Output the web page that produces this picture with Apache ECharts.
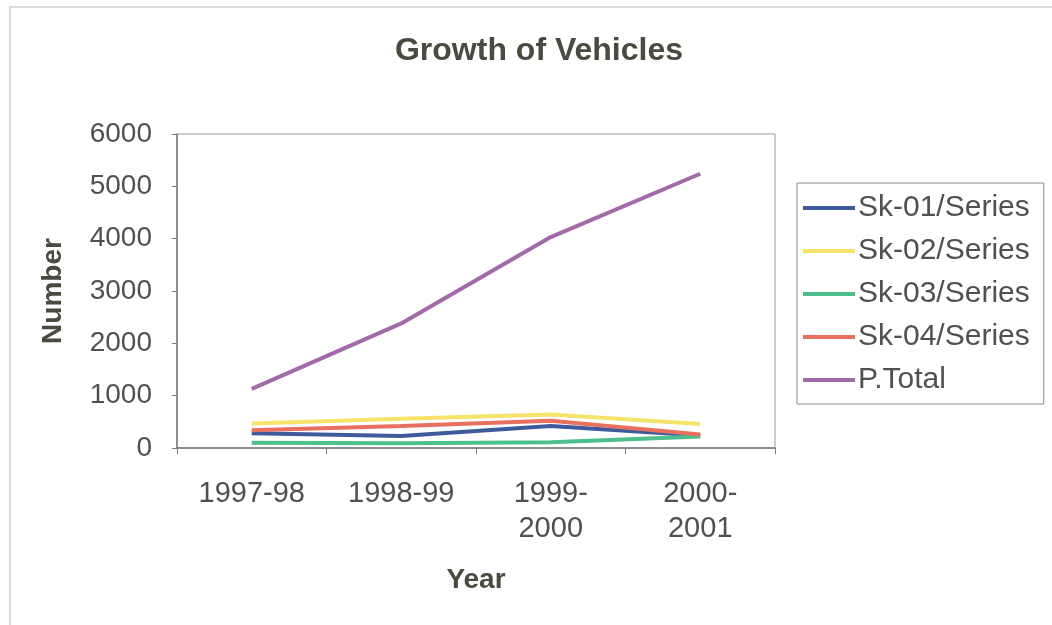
<!DOCTYPE html>
<html>
<head>
<meta charset="utf-8">
<script src="https://cdn.jsdelivr.net/npm/echarts@6/dist/echarts.min.js"></script>
<style>
  html, body { margin: 0; padding: 0; background: #ffffff; }
  #chart { width: 1052px; height: 625px; }
</style>
</head>
<body>
<div id="chart"></div>
<script>
// Vehicle counts per year
const years = ['1997-98', '1998-99', '1999-\n2000', '2000-\n2001'];
const sk01 = [280, 230, 420, 240];
const sk02 = [470, 560, 640, 460];
const sk03 = [100, 90, 110, 220];
const sk04 = [340, 420, 520, 260];
const pTotal = [1130, 2380, 4030, 5240];
const seriesNames = ['Sk-01/Series', 'Sk-02/Series', 'Sk-03/Series', 'Sk-04/Series', 'P.Total'];
const seriesColors = ['#3f5a9c', '#f5e36a', '#4dbf8a', '#e8705e', '#a36aa9'];
const seriesValues = [sk01, sk02, sk03, sk04, pTotal];

const chart = echarts.init(document.getElementById('chart'));
const fontFamily = 'Liberation Sans, Arial, sans-serif';
const textColor = '#505050';

chart.setOption({
  animation: false,
  backgroundColor: '#ffffff',
  textStyle: { fontFamily: fontFamily },
  title: {
    text: 'Growth of Vehicles',
    left: 534,
    top: 30,
    textAlign: 'center',
    textStyle: { fontSize: 32, fontWeight: 'bold', color: '#4a4a40', fontFamily: fontFamily }
  },
  graphic: [{
    type: 'rect',
    shape: { x: 10, y: 7, width: 1060, height: 640 },
    style: { fill: 'none', stroke: '#cfcfcf', lineWidth: 1.5 }
  }],
  legend: {
    orient: 'vertical',
    left: 797,
    top: 183,
    padding: [8, 14, 7, 6],
    borderColor: '#8a8a8a',
    borderWidth: 1,
    icon: 'rect',
    itemWidth: 52,
    itemHeight: 4,
    itemGap: 9,
    data: seriesNames,
    textStyle: { fontSize: 30, color: textColor, lineHeight: 34, padding: [0, 0, 0, -2] }
  },
  grid: {
    left: 177,
    right: 277,
    top: 134,
    bottom: 177,
    show: true,
    borderColor: '#9a9a9a',
    borderWidth: 1
  },
  xAxis: {
    type: 'category',
    data: years,
    boundaryGap: true,
    name: 'Year',
    nameLocation: 'middle',
    nameGap: 118,
    nameTextStyle: { fontSize: 28, fontWeight: 'bold', color: '#4a4a40' },
    axisLine: { lineStyle: { color: '#7a7a7a', width: 1.5 } },
    axisTick: { show: true, length: 6, lineStyle: { color: '#7a7a7a' } },
    axisLabel: { fontSize: 29, color: textColor, margin: 28, lineHeight: 35 }
  },
  yAxis: {
    type: 'value',
    min: 0,
    max: 6000,
    interval: 1000,
    name: 'Number',
    nameLocation: 'middle',
    nameGap: 110,
    nameRotate: 90,
    nameTextStyle: { fontSize: 28, fontWeight: 'bold', color: '#4a4a40' },
    axisLine: { show: true, lineStyle: { color: '#7a7a7a', width: 1.5 } },
    axisTick: { show: true, length: 5, lineStyle: { color: '#7a7a7a' } },
    axisLabel: { fontSize: 28, color: textColor, margin: 25, formatter: v => String(v) },
    splitLine: { show: false }
  },
  series: seriesNames.map((name, i) => ({
    name: name,
    type: 'line',
    data: seriesValues[i],
    symbol: 'none',
    color: seriesColors[i],
    lineStyle: { width: 4, color: seriesColors[i] }
  }))
});
</script>
</body>
</html>
